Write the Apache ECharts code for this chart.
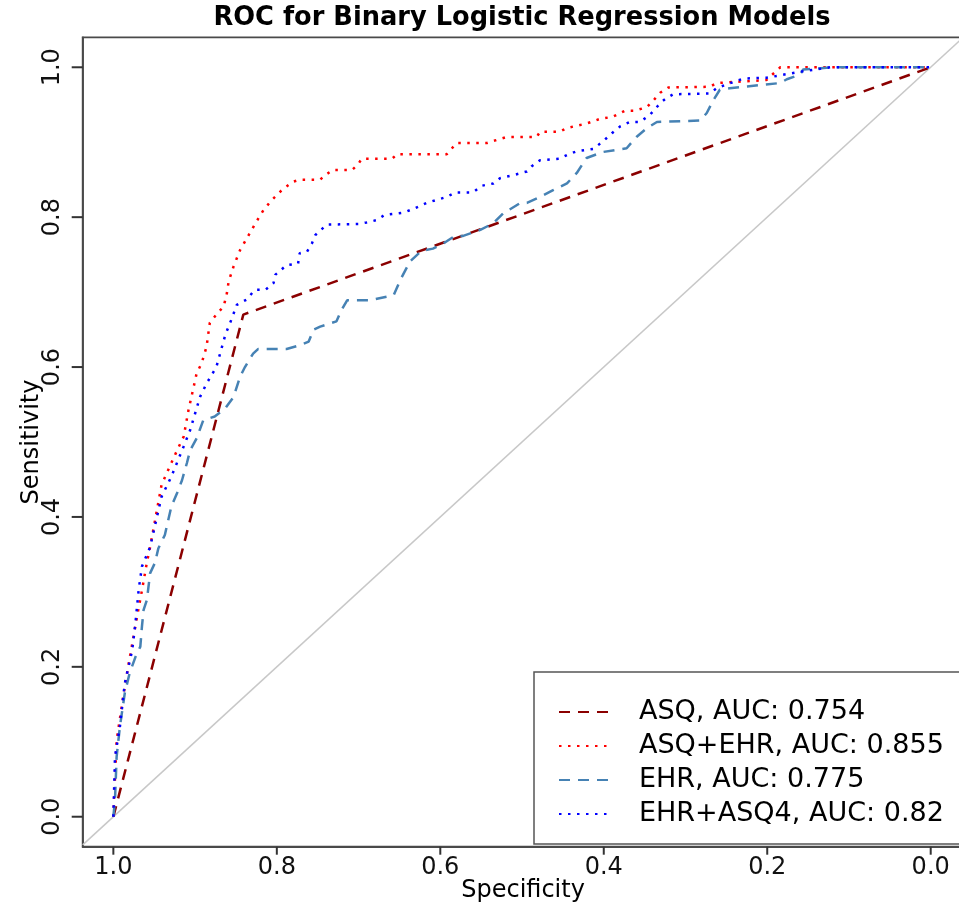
<!DOCTYPE html>
<html>
<head>
<meta charset="utf-8">
<title>ROC for Binary Logistic Regression Models</title>
<script src="https://cdn.jsdelivr.net/npm/echarts@6/dist/echarts.min.js"></script>
<style>
	html, body { margin: 0; padding: 0; background: #fff; }
	#roc { width: 959px; height: 914px; }
</style>
</head>
<body>
<div id="roc"></div>
<script>
// values: specificity (x, reversed) and sensitivity (y)
var asqSpecificity = [1.000, 0.841, 0.000];
var asqSensitivity = [0.000, 0.670, 1.000];

var asqEhrSpecificity = [1.000, 0.996, 0.988, 0.982, 0.976, 0.971, 0.965, 0.959, 0.955, 0.941, 0.922, 0.914, 0.908, 0.898, 0.892, 0.886, 0.882, 0.874, 0.865, 0.861, 0.859, 0.853, 0.845, 0.835, 0.825, 0.816, 0.806, 0.794, 0.781, 0.772, 0.747, 0.741, 0.731, 0.708, 0.701, 0.696, 0.659, 0.653, 0.592, 0.580, 0.543, 0.531, 0.519, 0.482, 0.478, 0.454, 0.445, 0.421, 0.405, 0.389, 0.374, 0.362, 0.347, 0.339, 0.331, 0.321, 0.270, 0.262, 0.201, 0.184, 0.000];
var asqEhrSensitivity = [0.000, 0.102, 0.160, 0.200, 0.236, 0.267, 0.302, 0.339, 0.360, 0.443, 0.489, 0.507, 0.543, 0.592, 0.605, 0.627, 0.659, 0.670, 0.681, 0.699, 0.714, 0.734, 0.756, 0.775, 0.794, 0.810, 0.823, 0.836, 0.847, 0.850, 0.850, 0.856, 0.863, 0.863, 0.870, 0.878, 0.878, 0.884, 0.884, 0.899, 0.899, 0.903, 0.907, 0.907, 0.914, 0.914, 0.919, 0.925, 0.931, 0.934, 0.942, 0.942, 0.947, 0.956, 0.966, 0.973, 0.974, 0.979, 0.983, 1.000, 1.000];

var ehrSpecificity = [1.000, 0.998, 0.996, 0.992, 0.986, 0.980, 0.973, 0.967, 0.965, 0.963, 0.959, 0.955, 0.949, 0.945, 0.937, 0.929, 0.922, 0.916, 0.910, 0.906, 0.898, 0.890, 0.876, 0.863, 0.853, 0.845, 0.839, 0.829, 0.823, 0.788, 0.772, 0.761, 0.755, 0.747, 0.727, 0.721, 0.714, 0.686, 0.657, 0.649, 0.637, 0.623, 0.609, 0.596, 0.582, 0.572, 0.551, 0.535, 0.523, 0.502, 0.494, 0.478, 0.462, 0.445, 0.433, 0.421, 0.401, 0.372, 0.360, 0.347, 0.335, 0.282, 0.274, 0.266, 0.258, 0.246, 0.229, 0.184, 0.176, 0.160, 0.156, 0.119, 0.000];
var ehrSensitivity = [0.000, 0.022, 0.080, 0.120, 0.165, 0.192, 0.213, 0.227, 0.254, 0.276, 0.289, 0.325, 0.339, 0.358, 0.376, 0.414, 0.432, 0.449, 0.472, 0.489, 0.505, 0.529, 0.534, 0.545, 0.560, 0.587, 0.600, 0.618, 0.624, 0.624, 0.629, 0.634, 0.650, 0.654, 0.661, 0.676, 0.689, 0.689, 0.696, 0.716, 0.741, 0.755, 0.758, 0.765, 0.775, 0.775, 0.783, 0.792, 0.805, 0.819, 0.819, 0.827, 0.836, 0.845, 0.859, 0.879, 0.887, 0.892, 0.907, 0.919, 0.927, 0.929, 0.939, 0.956, 0.970, 0.972, 0.974, 0.979, 0.984, 0.990, 0.997, 1.000, 1.000];

var ehrAsq4Specificity = [1.000, 0.998, 0.992, 0.986, 0.977, 0.973, 0.969, 0.965, 0.955, 0.941, 0.929, 0.914, 0.906, 0.894, 0.886, 0.874, 0.863, 0.855, 0.849, 0.837, 0.827, 0.814, 0.804, 0.802, 0.788, 0.774, 0.772, 0.763, 0.757, 0.753, 0.739, 0.700, 0.690, 0.678, 0.668, 0.645, 0.633, 0.617, 0.592, 0.582, 0.560, 0.549, 0.535, 0.527, 0.511, 0.494, 0.488, 0.478, 0.454, 0.445, 0.433, 0.413, 0.401, 0.390, 0.380, 0.368, 0.356, 0.344, 0.335, 0.329, 0.323, 0.315, 0.270, 0.262, 0.250, 0.229, 0.201, 0.160, 0.123, 0.000];
var ehrAsq4Sensitivity = [0.000, 0.080, 0.120, 0.178, 0.222, 0.258, 0.303, 0.334, 0.360, 0.427, 0.454, 0.494, 0.516, 0.560, 0.578, 0.600, 0.643, 0.665, 0.683, 0.690, 0.703, 0.703, 0.712, 0.723, 0.736, 0.738, 0.752, 0.754, 0.765, 0.776, 0.790, 0.791, 0.793, 0.796, 0.803, 0.806, 0.811, 0.819, 0.827, 0.833, 0.833, 0.842, 0.845, 0.852, 0.856, 0.861, 0.868, 0.876, 0.878, 0.883, 0.888, 0.891, 0.901, 0.912, 0.921, 0.927, 0.927, 0.936, 0.947, 0.954, 0.959, 0.964, 0.965, 0.972, 0.977, 0.985, 0.986, 0.994, 1.000, 1.000];

// chance line, drawn across the whole plot region
var identitySpecificity = [1.0375, -0.04];
var identitySensitivity = [-0.0375, 1.04];

var seriesNames = ['ASQ, AUC: 0.754', 'ASQ+EHR, AUC: 0.855', 'EHR, AUC: 0.775', 'EHR+ASQ4, AUC: 0.82'];
var tickValues = [0, 0.2, 0.4, 0.6, 0.8, 1.0];

// axis ranges (R pads about 4% on each side)
var xMin = -0.04, xMax = 1.0375;
var yMin = -0.04, yMax = 1.04;

function zip(xs, ys) {
	return xs.map(function (x, i) {
		return [x, ys[i]];
	});
}

var font = 'DejaVu Sans';
var frameColor = '#4a4a4a';
var rocChart = echarts.init(document.getElementById('roc'), null, { renderer: 'canvas' });

function rocSeries(name, xs, ys, color, dash) {
	return {
		name: name,
		type: 'line',
		data: zip(xs, ys),
		showSymbol: false,
		symbol: 'none',
		silent: true,
		lineStyle: { color: color, width: 2.5, type: dash, cap: 'butt' },
		itemStyle: { color: color }
	};
}

// outward tick marks on the frame, placed through the axes
function tickSeries(isX) {
	return {
		type: 'custom',
		silent: true,
		clip: false,
		z: 5,
		data: tickValues.map(function (v) {
			return isX ? [v, yMin] : [xMax, v];
		}),
		renderItem: function (params, api) {
			var p = api.coord([api.value(0), api.value(1)]);
			return {
				type: 'line',
				shape: isX
					? { x1: p[0], y1: p[1], x2: p[0], y2: p[1] + 8 }
					: { x1: p[0], y1: p[1], x2: p[0] - 11, y2: p[1] },
				style: { stroke: '#333', lineWidth: 2 }
			};
		}
	};
}

rocChart.setOption({
	animation: false,
	backgroundColor: '#ffffff',
	title: {
		text: 'ROC for Binary Logistic Regression Models',
		left: 522,
		top: 5,
		padding: 0,
		textAlign: 'center',
		textStyle: { fontFamily: font, fontSize: 25.7, fontWeight: 'bold', color: '#000' }
	},
	grid: {
		left: 82.7,
		top: 37.3,
		width: 880.7,
		height: 809.4,
		show: true,
		borderColor: frameColor,
		borderWidth: 1.8,
		backgroundColor: 'transparent',
		containLabel: false,
		outerBoundsMode: 'none'
	},
	legend: {
		orient: 'vertical',
		left: 534,
		top: 672,
		padding: [25, 80, 15, 24],
		itemGap: 4,
		itemWidth: 52,
		itemHeight: 14,
		borderColor: '#555',
		borderWidth: 1.5,
		backgroundColor: '#fff',
		selectedMode: false,
		itemStyle: { opacity: 0 },
		data: seriesNames,
		textStyle: {
			fontFamily: font,
			fontSize: 27,
			color: '#000',
			lineHeight: 30,
			padding: [0, 0, 0, 23]
		}
	},
	xAxis: {
		type: 'value',
		inverse: true,
		min: xMin,
		max: xMax,
		name: 'Specificity',
		nameLocation: 'middle',
		nameGap: 32,
		nameMoveOverlap: false,
		nameTextStyle: { fontFamily: font, fontSize: 24, color: '#000' },
		axisLine: { show: true, onZero: false, lineStyle: { color: frameColor, width: 1.8 } },
		splitLine: { show: false },
		axisTick: { show: false },
		axisLabel: {
			customValues: tickValues,
			margin: 9,
			fontFamily: font,
			fontSize: 24,
			color: '#111',
			formatter: function (v) { return v.toFixed(1); }
		}
	},
	yAxis: {
		type: 'value',
		min: yMin,
		max: yMax,
		name: 'Sensitivity',
		nameLocation: 'middle',
		nameRotate: 90,
		nameGap: 39,
		nameMoveOverlap: false,
		nameTextStyle: { fontFamily: font, fontSize: 24, color: '#000' },
		axisLine: { show: true, onZero: false, lineStyle: { color: frameColor, width: 1.8 } },
		splitLine: { show: false },
		axisTick: { show: false },
		axisLabel: {
			customValues: tickValues,
			rotate: 90,
			margin: 18,
			fontFamily: font,
			fontSize: 24,
			color: '#111',
			formatter: function (v) { return v.toFixed(1); }
		}
	},
	series: [
		{
			name: 'identity',
			type: 'line',
			data: zip(identitySpecificity, identitySensitivity),
			showSymbol: false,
			symbol: 'none',
			silent: true,
			lineStyle: { color: '#c8c8c8', width: 1.5 },
			z: 1
		},
		rocSeries(seriesNames[0], asqSpecificity, asqSensitivity, '#8b0000', [11, 8]),
		rocSeries(seriesNames[1], asqEhrSpecificity, asqEhrSensitivity, '#ff0000', [2.5, 6.5]),
		rocSeries(seriesNames[2], ehrSpecificity, ehrSensitivity, '#4682b4', [11, 8]),
		rocSeries(seriesNames[3], ehrAsq4Specificity, ehrAsq4Sensitivity, '#0000ff', [2.5, 6.5]),
		tickSeries(true),
		tickSeries(false)
	]
});
</script>
</body>
</html>
